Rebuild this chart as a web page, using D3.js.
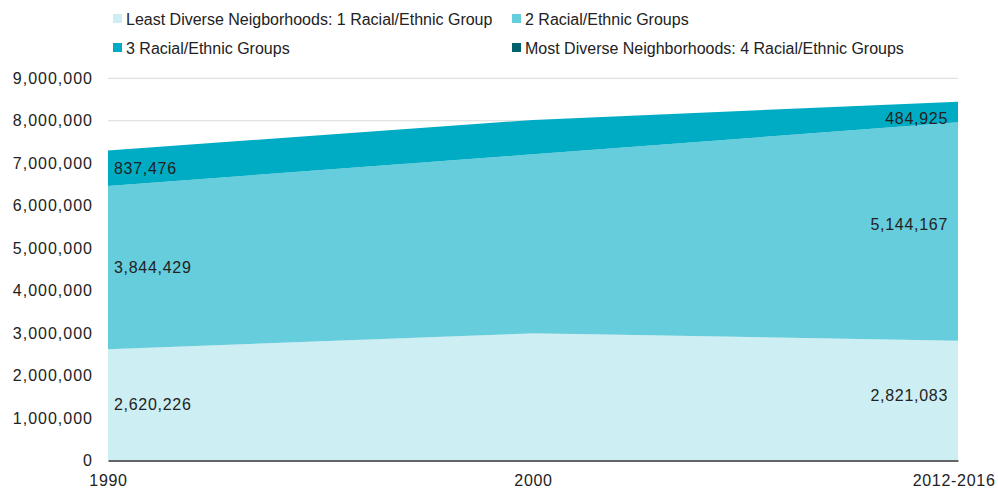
<!DOCTYPE html>
<html><head><meta charset="utf-8">
<script src="https://cdn.jsdelivr.net/npm/d3@7"></script>
<style>
html,body{margin:0;padding:0;background:#fff;}
text{font-family:"Liberation Sans",Arial,sans-serif;fill:#222;}
</style></head>
<body><svg id="c" width="998" height="489"></svg>
<script>
const periods = ["1990", "2000", "2012-2016"];
const seriesNames = ["Least Diverse Neigborhoods: 1 Racial/Ethnic Group", "2 Racial/Ethnic Groups", "3 Racial/Ethnic Groups", "Most Diverse Neighborhoods: 4 Racial/Ethnic Groups"];
const group1 = [2620226, 2995000, 2821083];
const group2 = [3844429, 4215000, 5144167];
const group3 = [837476, 810000, 484925];
const group4 = [0, 0, 0];
const colors = ["#cdeef3", "#66cddc", "#00acc4", "#00606c"];
const yTicks = [0,1000000,2000000,3000000,4000000,5000000,6000000,7000000,8000000,9000000];
// labels shown: [seriesIndex, periodIndex]
const shownLabels = [[0,0],[1,0],[2,0],[0,2],[1,2],[2,2]];

(function(){
const svg = d3.select("#c");
const mL = 108, mR = 958, mT = 78.3, mB = 460.5;
const x = d3.scalePoint().domain(periods).range([mL, mR]);
const y = d3.scaleLinear().domain([0, 9000000]).range([mB, mT]);

const rows = periods.map((p,i)=>({period:p, s0:group1[i], s1:group2[i], s2:group3[i], s3:group4[i]}));
const stack = d3.stack().keys(["s0","s1","s2","s3"]);
const layers = stack(rows);

// gridlines
svg.append("g").selectAll("line").data(yTicks.filter(d=>d>0)).join("line")
  .attr("x1", mL).attr("x2", mR).attr("y1", d=>y(d)).attr("y2", d=>y(d))
  .attr("stroke", "#d9d9d9").attr("stroke-width", 1);

const area = d3.area().x(d=>x(d.data.period)).y0(d=>y(d[0])).y1(d=>y(d[1])).curve(d3.curveLinear);
svg.append("g").selectAll("path").data(layers).join("path")
  .attr("d", area).attr("fill", (d,i)=>colors[i]);

// y axis labels
const yAxis = d3.axisLeft(y).tickValues(yTicks).tickFormat(d3.format(",")).tickSize(0).tickPadding(15);
const ya = svg.append("g").attr("transform", `translate(${mL},0)`).call(yAxis);
ya.select(".domain").remove();
ya.selectAll("text").style("font-size","16px").style("letter-spacing","1px").attr("fill","#222")
  .style("font-family","'Liberation Sans',Arial,sans-serif");

// x axis
const xAxis = d3.axisBottom(x).tickSize(0).tickPadding(14);
const xa = svg.append("g").attr("transform", `translate(0,${mB})`).call(xAxis);
xa.select(".domain").attr("stroke","#333").attr("stroke-width",1.5);
xa.selectAll("text").style("font-size","16px").style("letter-spacing","0.7px").attr("fill","#222")
  .style("font-family","'Liberation Sans',Arial,sans-serif");
xa.selectAll(".tick").filter(d=>d===periods[periods.length-1]).select("text")
  .attr("text-anchor","end").attr("x", 37);

// data labels
const fmt = d3.format(",");
const rightShift = [-5, -7, 6];
svg.append("g").selectAll("text").data(shownLabels).join("text")
  .attr("x", d=> d[1]===0 ? x(periods[0]) + 6 : x(periods[2]) - 10)
  .attr("y", d=> { const L = layers[d[0]][d[1]]; return (y(L[0]) + y(L[1]))/2 + (d[1]===2 ? rightShift[d[0]] : 0); })
  .attr("dy", "0.35em")
  .attr("text-anchor", d=> d[1]===0 ? "start" : "end")
  .style("font-size","16px").style("letter-spacing","0.7px")
  .text(d=> fmt([group1,group2,group3,group4][d[0]][d[1]]));

// legend
const legPos = [[113,14],[512,14],[113,43],[512,43]];
const lg = svg.append("g").selectAll("g").data(seriesNames).join("g")
  .attr("transform",(d,i)=>`translate(${legPos[i][0]},${legPos[i][1]})`);
lg.append("rect").attr("width",9).attr("height",9).attr("fill",(d,i)=>colors[i]);
lg.append("text").attr("x",13).attr("y",10.5).style("font-size","16px").text(d=>d);
})();
</script></body></html>
